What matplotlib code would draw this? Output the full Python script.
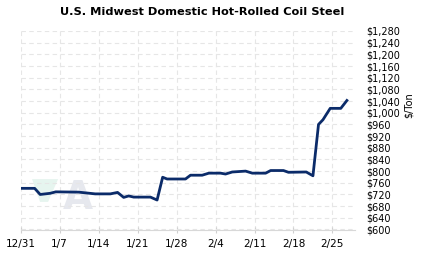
import matplotlib
matplotlib.use("Agg")
import matplotlib.pyplot as plt
from matplotlib.patches import Polygon
import numpy as np

# days since 12/31 and price in $/ton
days = [0, 2.5, 3.5, 5.3, 6.3, 10.4, 13.4, 16.1, 17.4, 18.5, 19.4, 20.3,
        23.3, 24.5, 25.5, 26.3, 29.6, 30.5, 32.6, 33.8, 35.9, 36.8, 38.0,
        40.4, 41.6, 44.0, 44.9, 47.2, 48.1, 51.3, 52.5, 53.5, 54.3, 55.6,
        57.5, 58.6]
price = [741, 741, 720, 724, 729, 728, 722, 722, 727, 710, 715, 711,
         711, 701, 779, 773, 773, 786, 786, 793, 793, 790, 797,
         800, 793, 793, 802, 802, 796, 797, 784, 960, 976, 1015,
         1015, 1042]

xtick_pos = [0, 7, 14, 21, 28, 35, 42, 49, 56]
xtick_labels = ['12/31', '1/7', '1/14', '1/21', '1/28', '2/4', '2/11', '2/18', '2/25']
yticks = np.arange(600, 1281, 40)

fig = plt.figure(figsize=(4.23, 2.57), dpi=100)
ax = fig.add_axes([20.7/423, 27.5/257, 334/423, 198.5/257])

# faint logo watermark
ax.add_patch(Polygon([(0.034, 0.254), (0.112, 0.254), (0.082, 0.139), (0.058, 0.139)],
                     closed=True, transform=ax.transAxes, color='#e6f5ef', zorder=1, lw=0))
ax.text(0.172, 0.16, 'A', transform=ax.transAxes, ha='center', va='center',
        fontsize=28, fontweight='bold', color='#e6e8ee', zorder=1)

ax.plot(days, price, color='#0b2b69', lw=2.0, zorder=3, solid_joinstyle='round')

ax.set_xlim(0, 60)
ax.set_ylim(600, 1280)
ax.set_xticks(xtick_pos)
ax.set_xticklabels(xtick_labels)
ax.set_yticks(yticks)
ax.set_yticklabels(['${:,}'.format(v) for v in yticks])
ax.yaxis.tick_right()

ax.grid(True, color='#e6e6e6', ls=(0, (4, 3)), lw=0.8, zorder=0)
for s in ['top', 'left', 'right']:
    ax.spines[s].set_visible(False)
ax.spines['bottom'].set_color('#d8d8d8')
ax.tick_params(axis='x', length=4, direction='inout', color='#d0d0d0', labelsize=7.5, pad=5)
ax.tick_params(axis='y', length=0, labelsize=7, pad=8)
for lab in ax.get_yticklabels():
    lab.set_horizontalalignment('left')

fig.text(0.477, 0.955, 'U.S. Midwest Domestic Hot-Rolled Coil Steel', ha='center', va='center',
         fontsize=8.2, fontweight='bold')
fig.text(0.967, 0.59, '$/Ton', rotation=90, ha='center', va='center', fontsize=7)

fig.savefig('out.png', dpi=100)
